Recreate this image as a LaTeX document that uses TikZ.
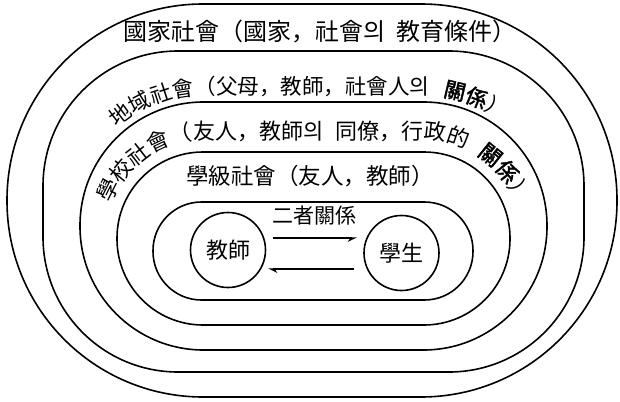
\documentclass[tikz,border=0pt]{standalone}
\usepackage{fontspec}
\usetikzlibrary{decorations.text,arrows.meta}
\newfontfamily\cjk{Noto Sans CJK KR}
\newfontfamily\cjkbold[FakeBold=2]{Noto Sans CJK KR}
\newcommand\LabA{\cjk\fontsize{21.5}{21.5}\selectfont}
\newcommand\LabAb{\cjkbold\fontsize{21.5}{21.5}\selectfont}
\newcommand\LabB{\cjk\fontsize{22}{22}\selectfont}
\newcommand\LabBb{\cjkbold\fontsize{22}{22}\selectfont}
\begin{document}
\begin{tikzpicture}[x=1pt,y=-1pt,
  ring/.style={draw, line width=1.6pt},
  lbl/.style={inner sep=0pt},
  person/.style={draw, circle, line width=1.6pt, minimum size=75pt, inner sep=0pt, font=\cjk\fontsize{22}{22}\selectfont},
  arr/.style={line width=1.5pt}]
\useasboundingbox (0,0) rectangle (620,401);
\fill[white] (0,0) rectangle (620,401);
% nested societies
\draw[ring, rounded corners=196pt] (7,4) rectangle (617,397);
\draw[ring, rounded corners=135pt] (43,51) rectangle (584,372);
\draw[ring, rounded corners=123.5pt] (80,102) rectangle (547,350);
\draw[ring, rounded corners=86pt] (117,152) rectangle (510,325);
\draw[ring, rounded corners=48.5pt] (153,202) rectangle (473,300);
% labels
\node[lbl, font=\cjk\fontsize{24}{24}\selectfont] (l1) at (320,32) {國家社會（國家，社會의\hspace{6pt} 教育條件）};
\path[decorate, decoration={text along path, text align=left,
  text={|\LabA|地域社會（父母，教師，社會人의{\kern13pt}|\LabAb|關係|\LabA|）}}]
  (117.0,128.0) arc[start angle=228.4, end angle=270, radius=131] -- (423,95)
  arc[start angle=270, end angle=345, radius=131];
\path[decorate, decoration={text along path, text align=left,
  text={|\LabB|學校社會（友人，教師의{\kern12pt}同僚，行政的{\kern12pt}|\LabBb|關係|\LabB|）}}]
  (110.65,204.15) arc[start angle=200.3, end angle=270, radius=99] -- (423.5,139.5)
  arc[start angle=270, end angle=355, radius=99];
\node[lbl, font=\cjk\fontsize{22.5}{22.5}\selectfont] (l4) at (310,176) {學級社會（友人，教師）};
% dyad
\node[person] (tch) at (228,250) {教師};
\node[person] (stu) at (401.5,253) {學生};
\node[lbl, font=\cjk\fontsize{21}{21}\selectfont] (rel) at (314,216) {二者關係};
\coordinate (p1) at (273,238);
\coordinate (p2) at (357,238);
\coordinate (p3) at (354,269);
\coordinate (p4) at (268,269);
\draw[arr, -{Stealth[harpoon,swap,length=8pt,width=8pt]}] (p1) -- (p2);
\draw[arr, -{Stealth[harpoon,length=8pt,width=8pt]}] (p3) -- (p4);
\end{tikzpicture}
\end{document}
